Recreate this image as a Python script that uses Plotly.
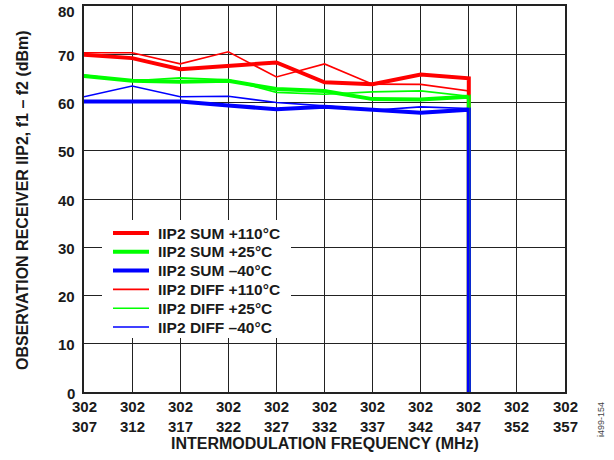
import plotly.graph_objects as go

cat_top = ["302"] * 11
cat_bottom = ["307", "312", "317", "322", "327", "332", "337", "342", "347", "352", "357"]
y_ticks = [0, 10, 20, 30, 40, 50, 60, 70, 80]

# measured at 302/307 ... 302/347, then the curves drop to 0 at 302/347
sum_110 = [69.9, 69.2, 66.9, 67.6, 68.3, 64.2, 63.8, 65.8, 65.0, 0]
sum_25 = [65.5, 64.5, 64.3, 64.5, 62.8, 62.4, 60.7, 60.6, 61.2, 0]
sum_m40 = [60.2, 60.2, 60.2, 59.4, 58.6, 59.1, 58.4, 57.9, 58.5, 0]
diff_110 = [70.3, 70.3, 68.0, 70.5, 65.3, 68.0, 63.8, 63.75, 62.4, 0]
diff_25 = [65.7, 64.5, 65.1, 64.7, 62.1, 61.7, 62.2, 62.4, 61.3, 0]
diff_m40 = [61.2, 63.4, 61.2, 61.3, 60.0, 59.3, 58.4, 59.1, 58.75, 0]

x_idx = list(range(9)) + [8]

series = [
    ("IIP2 SUM +110°C", sum_110, "#FF0000", 4),
    ("IIP2 SUM +25°C", sum_25, "#00FF00", 4),
    ("IIP2 SUM –40°C", sum_m40, "#0000FF", 4),
    ("IIP2 DIFF +110°C", diff_110, "#FF0000", 1.6),
    ("IIP2 DIFF +25°C", diff_25, "#00FF00", 1.6),
    ("IIP2 DIFF –40°C", diff_m40, "#0000FF", 1.6),
]

W, H = 614, 460
L, R, T, B = 84, 49, 6, 68
PW, PH = W - L - R, H - T - B


def px_x(p):
    return (p - L) / PW


def px_y(p):
    return (H - B - p) / PH


fig = go.Figure()
for name, vals, col, w in series:
    fig.add_trace(go.Scatter(x=x_idx, y=vals, mode="lines", name=name,
                             line=dict(color=col, width=w), showlegend=False))

fam = "Liberation Sans, Arial, sans-serif"
ink = "#1a1a1a"
fig.update_layout(
    width=W, height=H,
    margin=dict(l=L, r=R, t=T, b=B, autoexpand=False),
    paper_bgcolor="white", plot_bgcolor="white",
    font=dict(family=fam, size=15, color=ink),
    showlegend=False,
    xaxis=dict(range=[0, 10], tickmode="array", tickvals=list(range(len(cat_bottom))),
               showticklabels=False,
               showgrid=True, gridcolor="#222", gridwidth=1,
               showline=True, linecolor="#222", linewidth=2, mirror=True,
               ticks="", zeroline=False, automargin=False),
    yaxis=dict(range=[0, 80], tickmode="array", tickvals=y_ticks,
               showticklabels=False,
               showgrid=True, gridcolor="#222", gridwidth=1,
               showline=True, linecolor="#222", linewidth=2, mirror=True,
               ticks="", zeroline=False, automargin=False),
)

# y tick labels
for v in y_ticks:
    fig.add_annotation(text="<b>%d</b>" % v, xref="paper", yref="y", x=px_x(77), y=v,
                       yshift=-5 if v == y_ticks[-1] else -1,
                       showarrow=False, xanchor="right", yanchor="middle", font=dict(size=15, color=ink))

# x tick labels (two lines)
for i, (a, b) in enumerate(zip(cat_top, cat_bottom)):
    fig.add_annotation(text="<b>%s</b><br><b>%s</b>" % (a, b), xref="x", yref="paper", x=i, y=px_y(416.5),
                       showarrow=False, xanchor="center", yanchor="middle", font=dict(size=15, color=ink))

# legend drawn manually
fig.add_shape(type="rect", xref="paper", yref="paper", x0=px_x(102), x1=px_x(291),
              y0=px_y(338), y1=px_y(220), fillcolor="white", line=dict(width=0), layer="above")
for k, (name, vals, col, w) in enumerate(series):
    yy = 233 + k * 18.8
    fig.add_shape(type="line", xref="paper", yref="paper", x0=px_x(113), x1=px_x(149),
                  y0=px_y(yy), y1=px_y(yy), line=dict(color=col, width=w), layer="above")
    fig.add_annotation(text="<b>%s</b>" % name, xref="paper", yref="paper", x=px_x(156), y=px_y(yy),
                       showarrow=False, xanchor="left", yanchor="middle", font=dict(size=15.5, color=ink))

fig.add_annotation(text="<b>INTERMODULATION FREQUENCY (MHz)</b>", xref="paper", yref="paper",
                   x=0.5, y=px_y(443), showarrow=False, xanchor="center", yanchor="middle",
                   font=dict(size=16, color=ink))
fig.add_annotation(text="<b>OBSERVATION RECEIVER IIP2, f1 – f2 (dBm)</b>", xref="paper", yref="paper",
                   x=px_x(22), y=px_y(200), showarrow=False, textangle=-90,
                   xanchor="center", yanchor="middle", font=dict(size=16, color=ink))
fig.add_annotation(text="i499-154", xref="paper", yref="paper", x=px_x(601), y=px_y(420),
                   showarrow=False, textangle=-90, font=dict(size=9, color="#444"),
                   xanchor="center", yanchor="middle")
fig.write_html("out.html", config={"displayModeBar": False},
               post_script="document.body.style.margin='0';")
